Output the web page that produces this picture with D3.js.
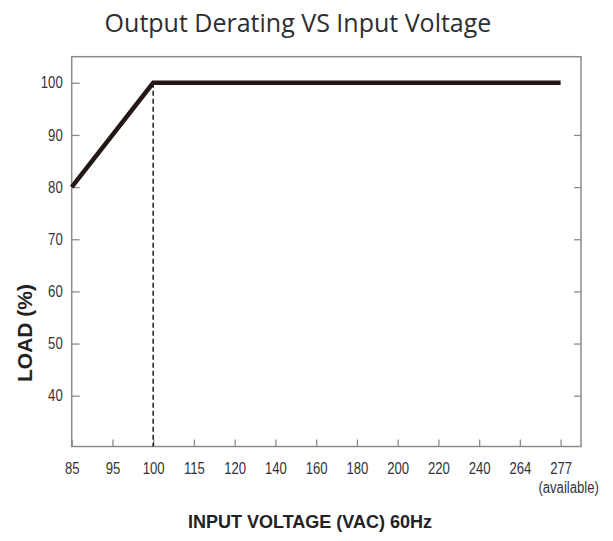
<!DOCTYPE html>
<html>
<head>
<meta charset="utf-8">
<script src="https://cdn.jsdelivr.net/npm/d3@7"></script>
<style>
  html, body { margin: 0; padding: 0; background: #fff; }
  svg { display: block; }
</style>
</head>
<body>
<svg id="chart" width="613" height="541"></svg>
<script>
// ---- data ----
const voltageCategories = ["85", "95", "100", "115", "120", "140", "160", "180", "200", "220", "240", "264", "277"];
const deratingVoltage = ["85", "100", "277"];
const deratingLoad = [80, 100, 100];
const loadTicks = [40, 50, 60, 70, 80, 90, 100];
const rightTicks = [40, 50, 60, 70, 80, 90];
const dashedAt = "100";
const titleText = "Output Derating VS Input Voltage";
const xTitleText = "INPUT VOLTAGE (VAC) 60Hz";
const yTitleText = "LOAD (%)";
const noteText = "(available)";

// ---- layout ----
const plotLeft = 71.7, plotRight = 581, plotTop = 56.7, plotBottom = 446.5;
const svg = d3.select("#chart");
const sansFont = "'Liberation Sans', Arial, sans-serif";
const squeeze = 0.82;
const axisColor = "#8c8c8c";
const inkColor = "#231815";
const labelColor = "#333340";

const idx = c => voltageCategories.indexOf(c);
const x = d3.scaleLinear().domain([0, voltageCategories.length - 0.5]).range([plotLeft, plotRight]);
const y = d3.scaleLinear().domain([30.26, 105]).range([plotBottom, plotTop]);

// frame
svg.append("rect")
  .attr("x", plotLeft).attr("y", plotTop)
  .attr("width", plotRight - plotLeft).attr("height", plotBottom - plotTop)
  .attr("fill", "none").attr("stroke", axisColor).attr("stroke-width", 1.5);

// left axis
const gy = svg.append("g").attr("transform", `translate(${plotLeft},0)`)
  .call(d3.axisLeft(y).tickValues(loadTicks).tickSize(-8).tickPadding(9).tickFormat(d3.format("d")));
gy.select(".domain").remove();
gy.selectAll(".tick line").attr("stroke", axisColor).attr("stroke-width", 1.3);
gy.selectAll(".tick text")
  .attr("font-family", sansFont).attr("font-size", 16).attr("fill", labelColor)
  .attr("x", -9 / squeeze).attr("transform", `scale(${squeeze},1)`);

// right axis ticks
const gr = svg.append("g").attr("transform", `translate(${plotRight},0)`)
  .call(d3.axisRight(y).tickValues(rightTicks).tickSize(-7).tickFormat(""));
gr.select(".domain").remove();
gr.selectAll(".tick line").attr("stroke", axisColor).attr("stroke-width", 1.3);

// bottom axis
const gx = svg.append("g").attr("transform", `translate(0,${plotBottom})`)
  .call(d3.axisBottom(x).tickValues(d3.range(voltageCategories.length))
    .tickSize(-7).tickPadding(16).tickFormat(i => voltageCategories[i]));
gx.select(".domain").remove();
gx.selectAll(".tick line").attr("stroke", axisColor).attr("stroke-width", 1.3);
gx.selectAll(".tick text")
  .attr("font-family", sansFont).attr("font-size", 16).attr("fill", labelColor)
  .attr("transform", `scale(${squeeze},1)`);

// "(available)" note under last tick
svg.append("text")
  .attr("transform", `translate(${x(voltageCategories.length - 1) + 8},493) scale(${squeeze},1)`)
  .attr("text-anchor", "middle")
  .attr("font-family", sansFont).attr("font-size", 16).attr("fill", labelColor)
  .text(noteText);

// dashed vertical line
svg.append("line")
  .attr("x1", x(idx(dashedAt))).attr("x2", x(idx(dashedAt)))
  .attr("y1", y(100)).attr("y2", plotBottom)
  .attr("stroke", inkColor).attr("stroke-width", 1.5)
  .attr("stroke-dasharray", "5,3");

// derating curve
const pts = deratingVoltage.map((v, i) => [x(idx(v)), y(deratingLoad[i])]);
svg.append("path")
  .attr("d", d3.line()(pts))
  .attr("fill", "none").attr("stroke", inkColor)
  .attr("stroke-width", 4.5).attr("stroke-linejoin", "miter");

// title
svg.append("text")
  .attr("x", 298).attr("y", 32)
  .attr("text-anchor", "middle")
  .attr("font-family", "'Open Sans', 'Noto Sans', sans-serif")
  .attr("font-size", 25).attr("fill", "#2e2e2e")
  .text(titleText);

// x title
svg.append("text")
  .attr("x", 310).attr("y", 528)
  .attr("text-anchor", "middle")
  .attr("font-family", sansFont).attr("font-weight", "bold")
  .attr("font-size", 18).attr("fill", "#222")
  .text(xTitleText);

// y title
svg.append("text")
  .attr("transform", "translate(32,333) rotate(-90)")
  .attr("text-anchor", "middle")
  .attr("font-family", sansFont).attr("font-weight", "bold")
  .attr("font-size", 21).attr("fill", "#222")
  .text(yTitleText);
</script>
</body>
</html>
